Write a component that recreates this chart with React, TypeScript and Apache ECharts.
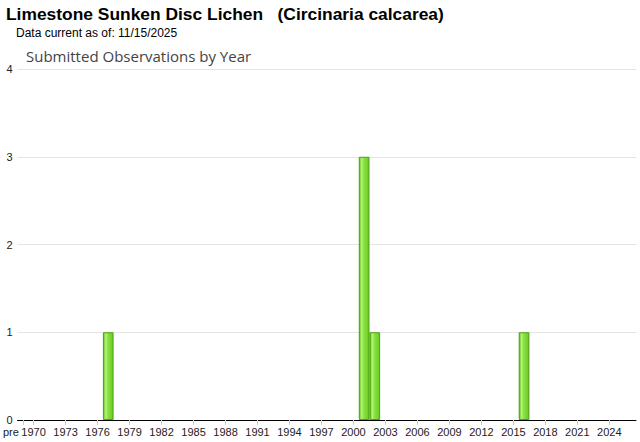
import React, { useEffect, useRef } from "react";
import * as echarts from "echarts";

const categories = [
  "pre",
  "1970", "1971", "1972", "1973", "1974", "1975", "1976", "1977", "1978", "1979",
  "1980", "1981", "1982", "1983", "1984", "1985", "1986", "1987", "1988", "1989",
  "1990", "1991", "1992", "1993", "1994", "1995", "1996", "1997", "1998", "1999",
  "2000", "2001", "2002", "2003", "2004", "2005", "2006", "2007", "2008", "2009",
  "2010", "2011", "2012", "2013", "2014", "2015", "2016", "2017", "2018", "2019",
  "2020", "2021", "2022", "2023", "2024", "2025", "2026",
];

const obsYears = ["1977", "2001", "2002", "2016"];
const obsCounts = [1, 3, 1, 1];

const yTicks = [0, 1, 2, 3, 4];

export default function App() {
  const ref = useRef<HTMLDivElement>(null);
  useEffect(() => {
    if (!ref.current) return;
    const chart = echarts.init(ref.current, null, { renderer: "svg" });
    const data = categories.map((c) => {
      const i = obsYears.indexOf(c);
      return i >= 0 ? obsCounts[i] : "-";
    });
    const showLabel = (index: number) => index === 0 || (index - 1) % 3 === 0;
    chart.setOption({
      animation: false,
      backgroundColor: "#ffffff",
      title: [
        {
          text: "Limestone Sunken Disc Lichen   (Circinaria calcarea)",
          left: 6,
          top: 5,
          padding: 0,
          textStyle: { fontFamily: "Liberation Sans", fontSize: 17.4, fontWeight: "bold", color: "#000" },
        },
        {
          text: "Data current as of: 11/15/2025",
          left: 16,
          top: 27,
          padding: 0,
          textStyle: { fontFamily: "Liberation Sans", fontSize: 12, fontWeight: "normal", color: "#000" },
        },
        {
          text: "Submitted Observations by Year",
          left: 26,
          top: 48,
          padding: 0,
          textStyle: { fontFamily: "Open Sans", fontSize: 15, fontWeight: "normal", color: "#444" },
        },
      ],
      grid: { left: 16, right: 4, top: 69, bottom: 22, containLabel: false },
      xAxis: {
        type: "category",
        data: categories,
        boundaryGap: true,
        axisLine: { show: true, lineStyle: { color: "#000", width: 1 } },
        axisTick: {
          show: true,
          alignWithLabel: true,
          interval: (index: number) => showLabel(index),
          length: 5,
          lineStyle: { color: "#cccccc" },
        },
        axisLabel: {
          interval: (index: number) => showLabel(index),
          fontFamily: "Liberation Sans",
          fontSize: 11,
          color: "#222",
          margin: 6,
          formatter: (v: string) => (v === "pre" ? "{pre|pre}" : v),
          rich: {
            pre: { fontFamily: "Liberation Sans", fontSize: 11, color: "#222", padding: [0, 24, 0, 0] },
          },
        },
        splitLine: { show: false },
      },
      yAxis: {
        type: "value",
        min: yTicks[0],
        max: yTicks[yTicks.length - 1],
        interval: 1,
        axisLine: { show: false },
        axisTick: { show: false },
        axisLabel: { fontFamily: "Liberation Sans", fontSize: 11, color: "#222", margin: 5 },
        splitLine: { show: true, lineStyle: { color: "#e4e4e4", width: 1 } },
      },
      series: [
        {
          type: "bar",
          data,
          barCategoryGap: "0%",
          itemStyle: {
            color: new echarts.graphic.LinearGradient(0, 0, 1, 0, [
              { offset: 0, color: "#5cbf1c" },
              { offset: 0.25, color: "#b4f77a" },
              { offset: 0.45, color: "#8ee244" },
              { offset: 1, color: "#66cc22" },
            ]),
            borderColor: "#4f9e12",
            borderWidth: 1,
          },
        },
      ],
    });
    return () => chart.dispose();
  }, []);
  return (
    <div
      ref={ref}
      style={{ position: "fixed", left: 0, top: 0, width: 640, height: 442 }}
    />
  );
}
